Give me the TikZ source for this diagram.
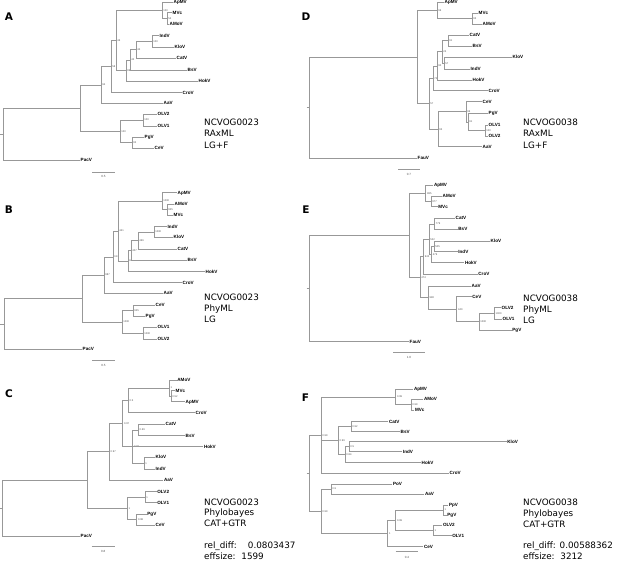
\documentclass[tikz,border=0pt]{standalone}
\usepackage{fontspec}
\setmainfont{DejaVu Sans}
\newfontfamily\lab{Liberation Sans}
\definecolor{brc}{HTML}{989898}
\definecolor{bsc}{HTML}{505050}
\newcommand\lfn[4]{\node[lf] (#1) at (#2,#3) {#4};}
\newcommand\ndn[4]{\coordinate (#1) at (#2,#3); \node[bs] (#1-s) at (#2,#3) {#4};}
\newcommand\ndc[3]{\coordinate (#1) at (#2,#3);}
\newcommand\ed[2]{\draw[br] (#1) |- (#2);}
\tikzset{
  br/.style={draw=brc, line width=0.6pt},
  lf/.style={anchor=west, inner sep=0.5pt, font=\lab\bfseries\fontsize{4.6}{5}\selectfont, text height=3.3pt, text depth=0pt},
  bs/.style={anchor=west, inner sep=0pt, xshift=1.2pt, font=\lab\fontsize{2.6}{3}\selectfont, text=bsc},
  sbl/.style={inner sep=0pt, font=\lab\fontsize{3}{3.5}\selectfont, text=bsc},
  info/.style={anchor=base west, inner sep=0pt, font=\fontsize{8.8}{10.8}\selectfont},
  plet/.style={anchor=base, inner sep=0pt, font=\bfseries\fontsize{10.5}{12}\selectfont}
}
\begin{document}
\begin{tikzpicture}[x=1pt,y=-1pt]
\useasboundingbox (0,0) rectangle (617,564);

% ---------------- Panel A ----------------
\lfn{A-ApMV}{173}{2}{ApMV}
\lfn{A-MVc}{172}{12.7}{MVc}
\lfn{A-AMoV}{169}{24}{AMoV}
\lfn{A-IndV}{159}{35.5}{IndV}
\lfn{A-KloV}{174}{47}{KloV}
\lfn{A-CatV}{176}{58.3}{CatV}
\lfn{A-BsV}{187}{70}{BsV}
\lfn{A-HokV}{198}{81}{HokV}
\lfn{A-CroV}{182}{92.7}{CroV}
\lfn{A-AaV}{163}{103.3}{AaV}
\lfn{A-OLV2}{157}{114}{OLV2}
\lfn{A-OLV1}{157}{126}{OLV1}
\lfn{A-PgV}{144}{137.3}{PgV}
\lfn{A-CeV}{154}{148.3}{CeV}
\lfn{A-PacV}{80}{160}{PacV}
\ndn{A-mv}{167}{18.35}{54}
\ndn{A-ap}{162}{10.2}{100}
\ndn{A-ik}{152}{41.25}{100}
\ndn{A-n44}{136}{49.8}{44}
\ndn{A-n42}{130}{59.9}{42}
\ndn{A-n89}{126}{70.45}{89}
\ndn{A-n46}{116}{40.3}{46}
\ndn{A-n58}{111}{66.5}{58}
\ndn{A-n94}{101}{84.9}{94}
\ndn{A-ol}{143}{120}{100}
\ndn{A-pc}{132}{142.8}{92}
\ndn{A-olc}{120}{131.4}{100}
\ndc{A-n1}{80}{108.2}
\ndc{A-rt}{3}{134.1}
\coordinate (A-st) at (0,134.1);
\ed{A-mv}{A-MVc}\ed{A-mv}{A-AMoV}
\ed{A-ap}{A-ApMV}\ed{A-ap}{A-mv}
\ed{A-ik}{A-IndV}\ed{A-ik}{A-KloV}
\ed{A-n44}{A-ik}\ed{A-n44}{A-CatV}
\ed{A-n42}{A-n44}\ed{A-n42}{A-BsV}
\ed{A-n89}{A-n42}\ed{A-n89}{A-HokV}
\ed{A-n46}{A-ap}\ed{A-n46}{A-n89}
\ed{A-n58}{A-n46}\ed{A-n58}{A-CroV}
\ed{A-n94}{A-n58}\ed{A-n94}{A-AaV}
\ed{A-ol}{A-OLV2}\ed{A-ol}{A-OLV1}
\ed{A-pc}{A-PgV}\ed{A-pc}{A-CeV}
\ed{A-olc}{A-ol}\ed{A-olc}{A-pc}
\ed{A-n1}{A-n94}\ed{A-n1}{A-olc}
\ed{A-rt}{A-n1}\ed{A-rt}{A-PacV}
\draw[br] (A-st) -- (A-rt);
\coordinate (A-sb1) at (92,172); \coordinate (A-sb2) at (115,172);
\draw[br] (A-sb1) -- (A-sb2);
\node[sbl] (A-sbt) at (103.5,176.5) {0.5};
\node[plet] (A-let) at (9,21) {A};
\node[info] (A-t1) at (204,126) {NCVOG0023};
\node[info] (A-t2) at (204,137) {RAxML};
\node[info] (A-t3) at (204,148) {LG+F};

% ---------------- Panel B ----------------
\lfn{B-ApMV}{177}{192.7}{ApMV}
\lfn{B-AMoV}{174}{204}{AMoV}
\lfn{B-MVc}{173}{215}{MVc}
\lfn{B-IndV}{167}{226.7}{IndV}
\lfn{B-KloV}{173}{237.3}{KloV}
\lfn{B-CatV}{177}{249}{CatV}
\lfn{B-BsV}{187}{260}{BsV}
\lfn{B-HokV}{205}{271.7}{HokV}
\lfn{B-CroV}{182}{282.7}{CroV}
\lfn{B-AaV}{163}{293.3}{AaV}
\lfn{B-CeV}{155}{305}{CeV}
\lfn{B-PgV}{145}{316}{PgV}
\lfn{B-OLV1}{157}{327.3}{OLV1}
\lfn{B-OLV2}{157}{339}{OLV2}
\lfn{B-PacV}{82}{349.3}{PacV}
\ndn{B-mv}{167}{209.5}{925}
\ndn{B-ap}{162}{201.1}{1000}
\ndn{B-ik}{154}{232}{1000}
\ndn{B-n466}{138}{240.5}{466}
\ndn{B-n407}{131}{250.25}{407}
\ndn{B-n84}{128}{261}{84}
\ndn{B-n441}{118}{231}{441}
\ndn{B-n613}{113}{256.9}{613}
\ndn{B-n987}{104}{275.1}{987}
\ndn{B-cp}{133}{310.5}{925}
\ndn{B-ol}{143}{333.2}{1000}
\ndn{B-olc}{122}{321.8}{1000}
\ndc{B-n1}{82}{298.5}
\ndc{B-rt}{4}{323.9}
\coordinate (B-st) at (0,323.9);
\ed{B-mv}{B-AMoV}\ed{B-mv}{B-MVc}
\ed{B-ap}{B-ApMV}\ed{B-ap}{B-mv}
\ed{B-ik}{B-IndV}\ed{B-ik}{B-KloV}
\ed{B-n466}{B-ik}\ed{B-n466}{B-CatV}
\ed{B-n407}{B-n466}\ed{B-n407}{B-BsV}
\ed{B-n84}{B-n407}\ed{B-n84}{B-HokV}
\ed{B-n441}{B-ap}\ed{B-n441}{B-n84}
\ed{B-n613}{B-n441}\ed{B-n613}{B-CroV}
\ed{B-n987}{B-n613}\ed{B-n987}{B-AaV}
\ed{B-cp}{B-CeV}\ed{B-cp}{B-PgV}
\ed{B-ol}{B-OLV1}\ed{B-ol}{B-OLV2}
\ed{B-olc}{B-cp}\ed{B-olc}{B-ol}
\ed{B-n1}{B-n987}\ed{B-n1}{B-olc}
\ed{B-rt}{B-n1}\ed{B-rt}{B-PacV}
\draw[br] (B-st) -- (B-rt);
\coordinate (B-sb1) at (92,360); \coordinate (B-sb2) at (115,360);
\draw[br] (B-sb1) -- (B-sb2);
\node[sbl] (B-sbt) at (103.5,365) {0.5};
\node[plet] (B-let) at (9,213.5) {B};
\node[info] (B-t1) at (204,300.7) {NCVOG0023};
\node[info] (B-t2) at (204,311.5) {PhyML};
\node[info] (B-t3) at (204,322.3) {LG};

% ---------------- Panel C ----------------
\lfn{C-AMoV}{176.7}{380}{AMoV}
\lfn{C-MVc}{175}{390.7}{MVc}
\lfn{C-ApMV}{185}{401.7}{ApMV}
\lfn{C-CroV}{195}{412.7}{CroV}
\lfn{C-CatV}{165}{424}{CatV}
\lfn{C-BsV}{185}{435.7}{BsV}
\lfn{C-HokV}{203.3}{446.5}{HokV}
\lfn{C-KloV}{155}{457.3}{KloV}
\lfn{C-IndV}{155}{469}{IndV}
\lfn{C-AaV}{163.3}{480}{AaV}
\lfn{C-OLV2}{156.7}{491.7}{OLV2}
\lfn{C-OLV1}{156.7}{502.7}{OLV1}
\lfn{C-PgV}{146.7}{514}{PgV}
\lfn{C-CeV}{155}{525}{CeV}
\lfn{C-PacV}{80}{536}{PacV}
\ndn{C-mv}{171}{396.2}{0.52}
\ndn{C-am}{169.3}{388.1}{1}
\ndn{C-n05}{128.3}{400.4}{0.5}
\ndn{C-cb}{138.3}{429.85}{0.69}
\ndn{C-ki}{144}{463.15}{1}
\ndn{C-n083}{132.7}{446.5}{0.83}
\ndn{C-n097a}{122.7}{423.45}{0.97}
\ndn{C-n097b}{109.3}{451.7}{0.97}
\ndn{C-ol}{145}{497.2}{1}
\ndn{C-pc}{136.7}{519.5}{0.98}
\ndn{C-olc}{127.3}{508.35}{1}
\ndc{C-n1}{87.3}{480}
\ndc{C-rt}{2.7}{508}
\coordinate (C-st) at (0,508);
\ed{C-mv}{C-MVc}\ed{C-mv}{C-ApMV}
\ed{C-am}{C-AMoV}\ed{C-am}{C-mv}
\ed{C-n05}{C-am}\ed{C-n05}{C-CroV}
\ed{C-cb}{C-CatV}\ed{C-cb}{C-BsV}
\ed{C-ki}{C-KloV}\ed{C-ki}{C-IndV}
\ed{C-n083}{C-cb}\ed{C-n083}{C-HokV}\ed{C-n083}{C-ki}
\ed{C-n097a}{C-n05}\ed{C-n097a}{C-n083}
\ed{C-n097b}{C-n097a}\ed{C-n097b}{C-AaV}
\ed{C-ol}{C-OLV2}\ed{C-ol}{C-OLV1}
\ed{C-pc}{C-PgV}\ed{C-pc}{C-CeV}
\ed{C-olc}{C-ol}\ed{C-olc}{C-pc}
\ed{C-n1}{C-n097b}\ed{C-n1}{C-olc}
\ed{C-rt}{C-n1}\ed{C-rt}{C-PacV}
\draw[br] (C-st) -- (C-rt);
\coordinate (C-sb1) at (91.7,546.7); \coordinate (C-sb2) at (115,546.7);
\draw[br] (C-sb1) -- (C-sb2);
\node[sbl] (C-sbt) at (103.3,551.7) {0.8};
\node[plet] (C-let) at (9,397) {C};
\node[info] (C-t1) at (204,505) {NCVOG0023};
\node[info] (C-t2) at (204,515.8) {Phylobayes};
\node[info] (C-t3) at (204,526.6) {CAT+GTR};
\node[info] (C-t4) at (204,548.2) {rel\_diff:\hspace{11pt}0.0803437};
\node[info] (C-t5) at (204,559) {effsize:\hspace{2pt} 1599};

% ---------------- Panel D ----------------
\lfn{D-ApMV}{444}{2}{ApMV}
\lfn{D-MVc}{478}{13.3}{MVc}
\lfn{D-AMoV}{482}{24}{AMoV}
\lfn{D-CatV}{469}{35}{CatV}
\lfn{D-BsV}{472}{46}{BsV}
\lfn{D-KloV}{512}{57.3}{KloV}
\lfn{D-IndV}{470}{69}{IndV}
\lfn{D-HokV}{472}{80}{HokV}
\lfn{D-CroV}{488}{90.7}{CroV}
\lfn{D-CeV}{482}{101.7}{CeV}
\lfn{D-PgV}{488}{113.3}{PgV}
\lfn{D-OLV1}{488}{125}{OLV1}
\lfn{D-OLV2}{488}{136}{OLV2}
\lfn{D-AaV}{482}{146.7}{AaV}
\lfn{D-FauV}{417}{158}{FauV}
\ndn{D-mv}{472}{18.65}{93}
\ndn{D-ap}{437}{10.3}{96}
\ndn{D-cb}{448}{40.5}{91}
\ndn{D-ki}{444}{63.15}{57}
\ndn{D-n24}{442}{51.8}{24}
\ndn{D-n90}{437}{65.9}{90}
\ndn{D-n74}{433}{78.3}{74}
\ndn{D-ol}{485}{130.5}{100}
\ndn{D-n91}{468}{121.9}{91}
\ndn{D-n96}{466}{111.8}{96}
\ndn{D-n93}{438}{129.25}{93}
\ndn{D-n57}{429}{103.8}{57}
\ndc{D-n1}{417}{57.05}
\ndc{D-rt}{309}{107.5}
\coordinate (D-st) at (306.5,107.5);
\ed{D-mv}{D-MVc}\ed{D-mv}{D-AMoV}
\ed{D-ap}{D-ApMV}\ed{D-ap}{D-mv}
\ed{D-cb}{D-CatV}\ed{D-cb}{D-BsV}
\ed{D-ki}{D-KloV}\ed{D-ki}{D-IndV}
\ed{D-n24}{D-cb}\ed{D-n24}{D-ki}
\ed{D-n90}{D-n24}\ed{D-n90}{D-HokV}
\ed{D-n74}{D-n90}\ed{D-n74}{D-CroV}
\ed{D-ol}{D-OLV1}\ed{D-ol}{D-OLV2}
\ed{D-n91}{D-PgV}\ed{D-n91}{D-ol}
\ed{D-n96}{D-CeV}\ed{D-n96}{D-n91}
\ed{D-n93}{D-n96}\ed{D-n93}{D-AaV}
\ed{D-n57}{D-n74}\ed{D-n57}{D-n93}
\ed{D-n1}{D-ap}\ed{D-n1}{D-n57}
\ed{D-rt}{D-n1}\ed{D-rt}{D-FauV}
\draw[br] (D-st) -- (D-rt);
\coordinate (D-sb1) at (398,169); \coordinate (D-sb2) at (420,169);
\draw[br] (D-sb1) -- (D-sb2);
\node[sbl] (D-sbt) at (409,174) {0.7};
\node[plet] (D-let) at (306,21) {D};
\node[info] (D-t1) at (523,126) {NCVOG0038};
\node[info] (D-t2) at (523,137) {RAxML};
\node[info] (D-t3) at (523,148) {LG+F};

% ---------------- Panel E ----------------
\lfn{E-ApMV}{433.3}{185}{ApMV}
\lfn{E-AMoV}{442}{196}{AMoV}
\lfn{E-MVc}{437.7}{206.7}{MVc}
\lfn{E-CatV}{455}{218.3}{CatV}
\lfn{E-BsV}{457.7}{229.3}{BsV}
\lfn{E-KloV}{490}{241}{KloV}
\lfn{E-IndV}{457.7}{251.7}{IndV}
\lfn{E-HokV}{464.3}{262.7}{HokV}
\lfn{E-CroV}{477.7}{274.3}{CroV}
\lfn{E-AaV}{471}{286}{AaV}
\lfn{E-CeV}{471.7}{296.7}{CeV}
\lfn{E-OLV2}{501}{307.7}{OLV2}
\lfn{E-OLV1}{502}{319}{OLV1}
\lfn{E-PgV}{511.7}{330}{PgV}
\lfn{E-FauV}{409}{341.7}{FauV}
\ndn{E-mv}{431}{201.35}{977}
\ndn{E-ap}{425.7}{193.2}{985}
\ndn{E-cb}{434.5}{223.8}{779}
\ndn{E-ki}{434}{246.35}{505}
\ndn{E-n479}{431.5}{254.5}{479}
\ndn{E-n522}{429}{239.15}{522}
\ndn{E-n942}{423.5}{256.7}{942}
\ndn{E-ol}{494.3}{313.35}{1000}
\ndn{E-olp}{479}{321.7}{1000}
\ndn{E-n440}{456.7}{309.2}{440}
\ndn{E-n980}{428.3}{297.6}{980}
\ndn{E-n474}{420}{277.15}{474}
\ndc{E-n1}{409}{235.2}
\ndc{E-rt}{309}{288.4}
\coordinate (E-st) at (306.5,288.4);
\ed{E-mv}{E-AMoV}\ed{E-mv}{E-MVc}
\ed{E-ap}{E-ApMV}\ed{E-ap}{E-mv}
\ed{E-cb}{E-CatV}\ed{E-cb}{E-BsV}
\ed{E-ki}{E-KloV}\ed{E-ki}{E-IndV}
\ed{E-n479}{E-ki}\ed{E-n479}{E-HokV}
\ed{E-n522}{E-cb}\ed{E-n522}{E-n479}
\ed{E-n942}{E-n522}\ed{E-n942}{E-CroV}
\ed{E-ol}{E-OLV2}\ed{E-ol}{E-OLV1}
\ed{E-olp}{E-ol}\ed{E-olp}{E-PgV}
\ed{E-n440}{E-CeV}\ed{E-n440}{E-olp}
\ed{E-n980}{E-AaV}\ed{E-n980}{E-n440}
\ed{E-n474}{E-n942}\ed{E-n474}{E-n980}
\ed{E-n1}{E-ap}\ed{E-n1}{E-n474}
\ed{E-rt}{E-n1}\ed{E-rt}{E-FauV}
\draw[br] (E-st) -- (E-rt);
\coordinate (E-sb1) at (393.3,352.7); \coordinate (E-sb2) at (425,352.7);
\draw[br] (E-sb1) -- (E-sb2);
\node[sbl] (E-sbt) at (409,357.5) {1.0};
\node[plet] (E-let) at (306,213.5) {E};
\node[info] (E-t1) at (523,301.5) {NCVOG0038};
\node[info] (E-t2) at (523,312.3) {PhyML};
\node[info] (E-t3) at (523,323.1) {LG};

% ---------------- Panel F ----------------
\lfn{F-ApMV}{413.3}{389.3}{ApMV}
\lfn{F-AMoV}{423.3}{399.3}{AMoV}
\lfn{F-MVc}{414.3}{410}{MVc}
\lfn{F-CatV}{388.3}{421.7}{CatV}
\lfn{F-BsV}{400}{431.7}{BsV}
\lfn{F-KloV}{506.7}{441.7}{KloV}
\lfn{F-IndV}{402.3}{451.7}{IndV}
\lfn{F-HokV}{421}{462.7}{HokV}
\lfn{F-CroV}{449}{473.3}{CroV}
\lfn{F-PoV}{392.3}{484}{PoV}
\lfn{F-AaV}{424.3}{494}{AaV}
\lfn{F-PpV}{448.3}{505}{PpV}
\lfn{F-PgV}{446.7}{515}{PgV}
\lfn{F-OLV2}{442.3}{525}{OLV2}
\lfn{F-OLV1}{451.7}{535.7}{OLV1}
\lfn{F-CeV}{423.3}{546.7}{CeV}
\ndn{F-mv}{411}{404.65}{0.99}
\ndn{F-ap}{395.7}{397}{0.99}
\ndn{F-cb}{351}{426.7}{0.92}
\ndn{F-ki}{349}{446.7}{0.5}
\ndn{F-n084}{345}{454.7}{0.84}
\ndn{F-n099d}{338.3}{440.7}{0.99}
\ndn{F-top}{321}{435.15}{0.99}
\ndn{F-pa}{331}{489}{0.9}
\ndn{F-pp}{443.3}{510}{1}
\ndn{F-ol}{433.3}{530.35}{1}
\ndn{F-n099e}{395.7}{520.2}{0.99}
\ndn{F-n1c}{387.7}{533.45}{1}
\ndn{F-bot}{321}{511.2}{0.99}
\ndc{F-rt}{309}{473.2}
\coordinate (F-st) at (306.5,473.2);
\ed{F-mv}{F-AMoV}\ed{F-mv}{F-MVc}
\ed{F-ap}{F-ApMV}\ed{F-ap}{F-mv}
\ed{F-cb}{F-CatV}\ed{F-cb}{F-BsV}
\ed{F-ki}{F-KloV}\ed{F-ki}{F-IndV}
\ed{F-n084}{F-ki}\ed{F-n084}{F-HokV}
\ed{F-n099d}{F-cb}\ed{F-n099d}{F-n084}
\ed{F-top}{F-ap}\ed{F-top}{F-n099d}\ed{F-top}{F-CroV}
\ed{F-pa}{F-PoV}\ed{F-pa}{F-AaV}
\ed{F-pp}{F-PpV}\ed{F-pp}{F-PgV}
\ed{F-ol}{F-OLV2}\ed{F-ol}{F-OLV1}
\ed{F-n099e}{F-pp}\ed{F-n099e}{F-ol}
\ed{F-n1c}{F-n099e}\ed{F-n1c}{F-CeV}
\ed{F-bot}{F-pa}\ed{F-bot}{F-n1c}
\ed{F-rt}{F-top}\ed{F-rt}{F-bot}
\draw[br] (F-st) -- (F-rt);
\coordinate (F-sb1) at (395.7,551.7); \coordinate (F-sb2) at (418.3,551.7);
\draw[br] (F-sb1) -- (F-sb2);
\node[sbl] (F-sbt) at (407,557.3) {0.4};
\node[plet] (F-let) at (305.5,401) {F};
\node[info] (F-t1) at (523,505.7) {NCVOG0038};
\node[info] (F-t2) at (523,516.5) {Phylobayes};
\node[info] (F-t3) at (523,527.3) {CAT+GTR};
\node[info] (F-t4) at (523,548.9) {rel\_diff: 0.00588362};
\node[info] (F-t5) at (523,559.7) {effsize:\hspace{2pt} 3212};
\end{tikzpicture}
\end{document}
